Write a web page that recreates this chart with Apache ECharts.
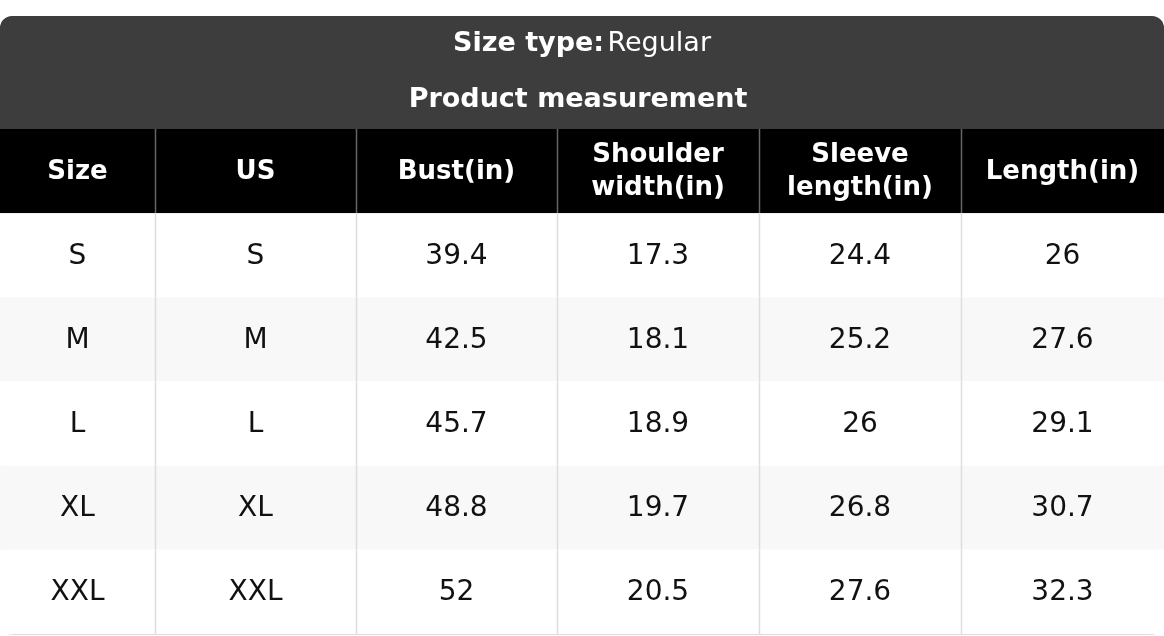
<!DOCTYPE html>
<html><head><meta charset="utf-8">
<script src="https://cdn.jsdelivr.net/npm/echarts@6/dist/echarts.min.js"></script>
<style>html,body{margin:0;padding:0;background:#fff}#c{width:1164px;height:636px}</style>
</head><body><div id="c"></div>
<script>
const headers = ['Size', 'US', 'Bust(in)', 'Shoulder\nwidth(in)', 'Sleeve\nlength(in)', 'Length(in)'];
const sizes = ['S', 'M', 'L', 'XL', 'XXL'];
const us = ['S', 'M', 'L', 'XL', 'XXL'];
const bust = ['39.4', '42.5', '45.7', '48.8', '52'];
const shoulder = ['17.3', '18.1', '18.9', '19.7', '20.5'];
const sleeve = ['24.4', '25.2', '26', '26.8', '27.6'];
const lengthIn = ['26', '27.6', '29.1', '30.7', '32.3'];
const colEdges = [0, 155, 356, 557, 759, 961, 1164];

const columns = [sizes, us, bust, shoulder, sleeve, lengthIn];
const data = [];
headers.forEach((h, c) => data.push([c, 0, h, 1]));
for (let r = 0; r < sizes.length; r++) for (let c = 0; c < columns.length; c++) data.push([c, r + 1, columns[c][r], 0]);

const chart = echarts.init(document.getElementById('c'));
chart.setOption({
  animation: false,
  graphic: [
    {type: 'rect', z: -10, shape: {x: 0.5, y: 16.5, width: 1163, height: 618, r: 12}, style: {fill: '#fff', stroke: '#dddddd', lineWidth: 1}},
    {type: 'rect', z: -9, shape: {x: 0, y: 16, width: 1164, height: 114, r: [12, 12, 0, 0]}, style: {fill: '#3d3d3d'}},
    {type: 'text', z: 10, x: 582, y: 44, style: {text: '{b|Size type:} {n|Regular}', align: 'center', verticalAlign: 'middle',
      rich: {b: {fontFamily: 'DejaVu Sans', fontWeight: 'bold', fontSize: 27, fill: '#fff'}, n: {fontFamily: 'DejaVu Sans', fontSize: 27, fill: '#fff'}}}},
    {type: 'text', z: 10, x: 578, y: 100, style: {text: 'Product measurement', align: 'center', verticalAlign: 'middle', fontFamily: 'DejaVu Sans', fontWeight: 'bold', fontSize: 27, fill: '#fff'}}
  ],
  grid: {left: 0, right: 0, top: 129, bottom: 2},
  xAxis: {type: 'value', min: 0, max: 1164, show: false},
  yAxis: {type: 'value', min: 0, max: 6, inverse: true, show: false},
  series: [{
    type: 'custom',
    data: data,
    renderItem: function (params, api) {
      const c = api.value(0), r = api.value(1), hdr = api.value(3);
      const p0 = api.coord([colEdges[c], r]);
      const p1 = api.coord([colEdges[c + 1], r + 1]);
      const fill = hdr ? '#000' : (r % 2 === 0 ? '#f8f8f8' : '#fff');
      const txt = data[params.dataIndex][2];
      const children = [
        {type: 'rect', shape: {x: p0[0], y: p0[1], width: p1[0] - p0[0], height: p1[1] - p0[1]}, style: {fill: fill}},
        {type: 'text', style: {text: txt, x: (p0[0] + p1[0]) / 2, y: (p0[1] + p1[1]) / 2 + 1, align: 'center', verticalAlign: 'middle',
          fontFamily: 'DejaVu Sans', fontWeight: hdr ? 'bold' : 'normal', fontSize: hdr ? 26 : 28, lineHeight: 33, fill: hdr ? '#fff' : '#111'}}
      ];
      if (c > 0) children.push({type: 'line', shape: {x1: p0[0] + 0.5, y1: p0[1], x2: p0[0] + 0.5, y2: p1[1]}, style: {stroke: hdr ? '#666' : '#dddddd', lineWidth: 1.5}});
      return {type: 'group', children: children};
    }
  }]
});
</script></body></html>
